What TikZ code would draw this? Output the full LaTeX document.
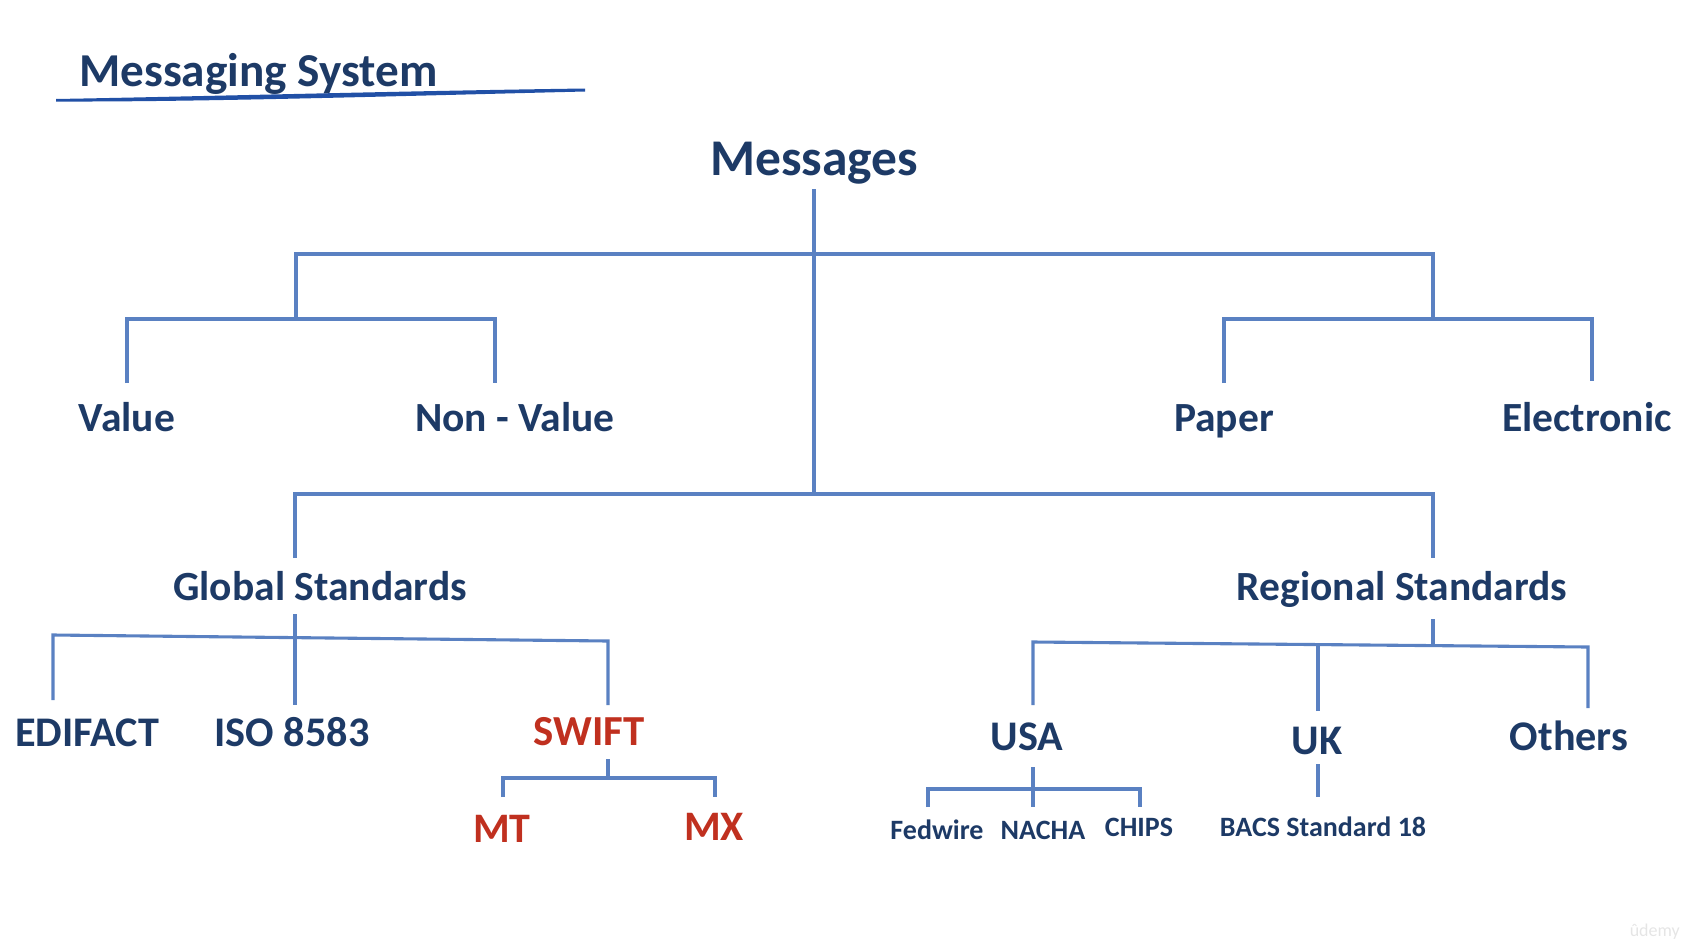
\documentclass[tikz,border=0pt]{standalone}
\usepackage{fontspec}
\setmainfont{Carlito}
\definecolor{navy}{HTML}{1D3A66}
\definecolor{swred}{HTML}{C0301F}
\definecolor{linec}{HTML}{5A81C2}
\definecolor{brushc}{HTML}{2150A6}
\tikzset{
  lbl/.style={anchor=base, inner sep=0pt, text=navy, font=\bfseries\fontsize{#1}{#1}\selectfont},
  rlbl/.style={lbl=#1, text=swred},
  conn/.style={draw=linec, line width=3.1pt, line cap=butt, line join=miter}
}
\begin{document}
\begin{tikzpicture}[x=1pt,y=-1pt]
\useasboundingbox (0,0) rectangle (1688,948);
% title
\node[lbl=47.2, anchor=base west] (title) at (79,86) {Messaging System};
\fill[brushc] (56,99) .. controls (200,96.5) and (400,91) .. (585,88.5)
  -- (585,91.5) .. controls (400,96) and (200,102) .. (56,101.5) -- cycle;
% nodes
\node[lbl=51.5] (msg) at (814,175) {Messages};
\node[lbl=41.5] (val) at (127,431) {Value};
\node[lbl=41.5] (nval) at (515,431) {Non - Value};
\node[lbl=41.5] (pap) at (1224,431) {Paper};
\node[lbl=41.5] (ele) at (1587,431) {Electronic};
\node[lbl=41.5] (glob) at (320,600) {Global Standards};
\node[lbl=41.5] (reg) at (1402,600) {Regional Standards};
\node[lbl=42.2] (edi) at (87,746) {EDIFACT};
\node[lbl=42.2] (iso) at (292,746) {ISO 8583};
\node[rlbl=42.8] (swift) at (589,745) {SWIFT};
\node[rlbl=42] (mt) at (502,842) {MT};
\node[rlbl=42] (mx) at (714,840) {MX};
\node[lbl=42.2] (usa) at (1027,750) {USA};
\node[lbl=42.2] (uk) at (1317,754) {UK};
\node[lbl=42.2] (oth) at (1569,750) {Others};
\node[lbl=28] (fed) at (937,839) {Fedwire};
\node[lbl=28] (nach) at (1043,839) {NACHA};
\node[lbl=28] (chip) at (1139,836) {CHIPS};
\node[lbl=28] (bacs) at (1323,836) {BACS Standard 18};
\node[anchor=base east, inner sep=0pt, text=black!10, font=\fontsize{18}{18}\selectfont] (udm) at (1680,936) {ûdemy};
% connector end points
\coordinate (msg-b) at (814,189);
\coordinate (trunk-e) at (814,494);
\coordinate (val-t) at (127,383);
\coordinate (nval-t) at (495,383);
\coordinate (pap-t) at (1224,383);
\coordinate (ele-t) at (1592,381);
\coordinate (glob-t) at (295,558);
\coordinate (reg-t) at (1433,558);
\coordinate (glob-b) at (295,614);
\coordinate (edi-t) at (53,700);
\coordinate (iso-t) at (295,705);
\coordinate (swift-t) at (608,705);
\coordinate (swift-b) at (608,759);
\coordinate (mt-t) at (503,797);
\coordinate (mx-t) at (715,797);
\coordinate (reg-b) at (1433,619);
\coordinate (usa-t) at (1033,705);
\coordinate (uk-t) at (1318,711);
\coordinate (oth-t) at (1588,708);
\coordinate (usa-b) at (1033,767);
\coordinate (fed-t) at (928,807);
\coordinate (nach-t) at (1033,807);
\coordinate (chip-t) at (1140,807);
\coordinate (uk-b) at (1318,764);
\coordinate (bacs-t) at (1318,797);
% trunk
\draw[conn] (msg-b) -- (trunk-e);
% first level
\draw[conn] (296,319) -- (296,254) -- (1433,254) -- (1433,319);
\draw[conn] (val-t) -- (127,319) -- (495,319) -- (nval-t);
\draw[conn] (pap-t) -- (1224,319) -- (1592,319) -- (ele-t);
% second level
\draw[conn] (glob-t) -- (295,494) -- (1433,494) -- (reg-t);
% global
\draw[conn] (glob-b) -- (iso-t);
\draw[conn] (edi-t) -- (53,635) -- (608,641) -- (swift-t);
\draw[conn] (swift-b) -- (608,778);
\draw[conn] (mt-t) -- (503,778) -- (715,778) -- (mx-t);
% regional
\draw[conn] (reg-b) -- (1433,645);
\draw[conn] (usa-t) -- (1033,642) -- (1588,647) -- (oth-t);
\draw[conn] (uk-t) -- (1318,644.5);
\draw[conn] (usa-b) -- (nach-t);
\draw[conn] (fed-t) -- (928,789) -- (1140,789) -- (chip-t);
\draw[conn] (uk-b) -- (bacs-t);
\end{tikzpicture}
\end{document}
